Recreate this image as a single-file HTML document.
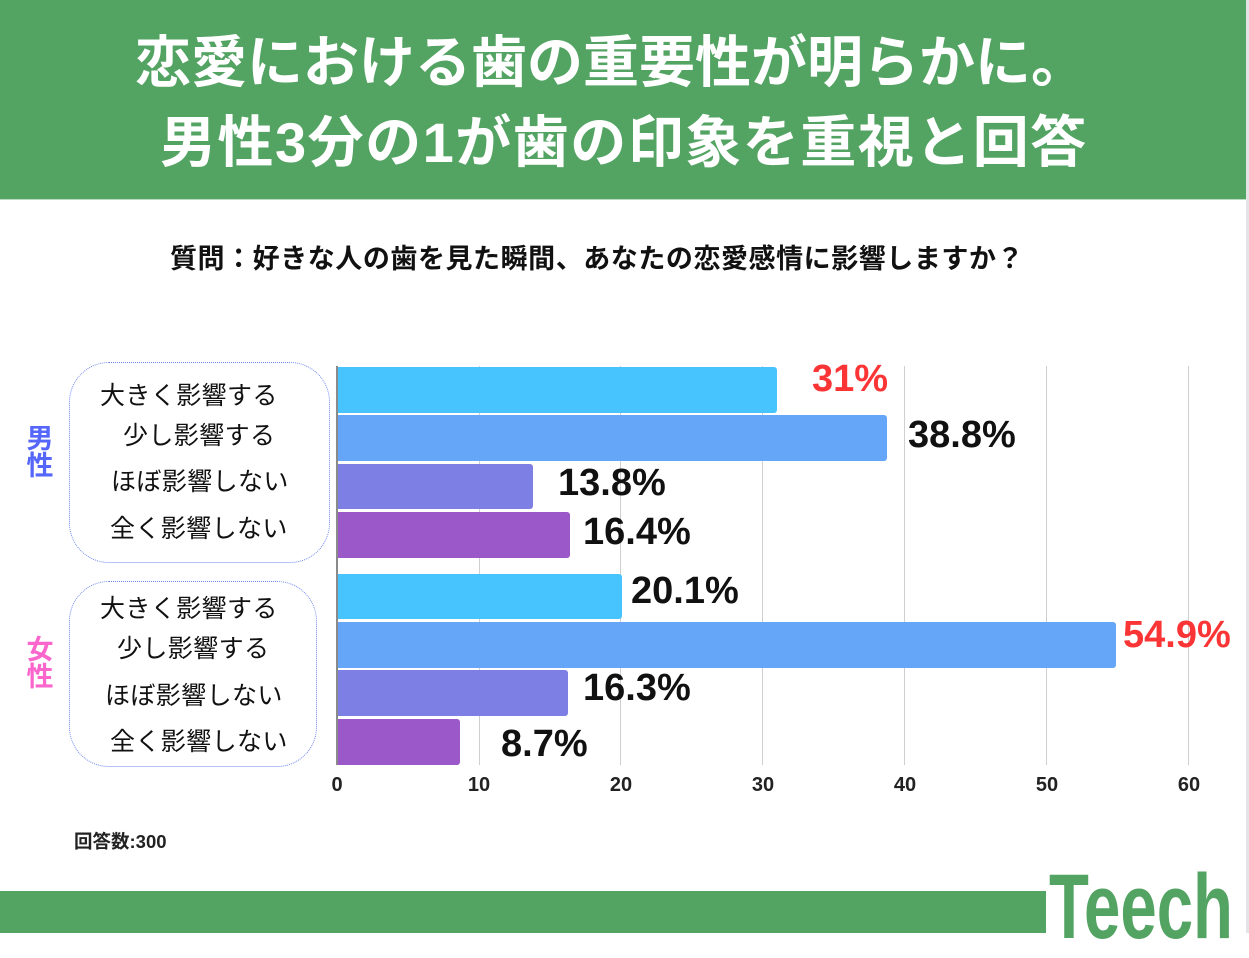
<!DOCTYPE html>
<html><head><meta charset="utf-8">
<style>
*{margin:0;padding:0;box-sizing:border-box}
body{width:1249px;height:933px;background:#fff;position:relative;overflow:hidden;font-family:"Liberation Sans","Noto Sans CJK JP",sans-serif;color:#111}
.a{position:absolute;white-space:nowrap;line-height:1}
.hdr{position:absolute;left:0;top:0;width:1249px;height:200px;background:#53a363;border-bottom:1px solid #b9dcc0}
.t{color:#fff;font-weight:bold;font-size:56px}
.sub{font-size:27px;font-weight:bold;letter-spacing:0.55px;color:#111}
.cat{font-size:25px;letter-spacing:0.4px;color:#111}
.val{font-size:38px;font-weight:bold;color:#111}
.red{color:#fb3535}
.tick{font-size:20px;font-weight:bold;color:#222;width:40px;text-align:center}
.bar{position:absolute;left:337px;height:45.5px;border-radius:0 3px 3px 0}
.c1{background:#47c3fd}.c2{background:#65a6f8}.c3{background:#7e7fe4}.c4{background:#9a58c9}
.grid{position:absolute;top:366px;width:1px;height:399px;background:#cfcfcf}
.box{position:absolute;border:1.2px dotted #7088ee;border-radius:40px}
.gl{font-size:27px;font-weight:bold;line-height:27px;width:30px;text-align:center}
</style></head><body>
<div class="hdr"></div>
<div class="a t" style="left:135px;top:35px">恋愛における歯の重要性が明らかに。</div>
<div class="a t" style="left:160px;top:115px;letter-spacing:1.5px">男性3分の1が歯の印象を重視と回答</div>
<div class="a sub" style="left:170px;top:246px">質問：好きな人の歯を見た瞬間、あなたの恋愛感情に影響しますか？</div>

<div class="box" style="left:69px;top:362px;width:261px;height:201px"></div>
<div class="box" style="left:69px;top:581px;width:248px;height:186px"></div>

<div class="a gl" style="left:25px;top:426px;color:#5566fb">男<br>性</div>
<div class="a gl" style="left:25px;top:637px;color:#fb66cc">女<br>性</div>

<div class="a cat" style="left:100px;top:383.5px">大きく影響する</div>
<div class="a cat" style="left:123px;top:423.5px">少し影響する</div>
<div class="a cat" style="left:111px;top:470px">ほぼ影響しない</div>
<div class="a cat" style="left:110px;top:517px">全く影響しない</div>
<div class="a cat" style="left:100px;top:597px">大きく影響する</div>
<div class="a cat" style="left:117px;top:637px">少し影響する</div>
<div class="a cat" style="left:105px;top:683.5px">ほぼ影響しない</div>
<div class="a cat" style="left:110px;top:730px">全く影響しない</div>

<div class="grid" style="left:479px"></div>
<div class="grid" style="left:620px"></div>
<div class="grid" style="left:762px"></div>
<div class="grid" style="left:904px"></div>
<div class="grid" style="left:1046px"></div>
<div class="grid" style="left:1188px"></div>

<div class="bar c1" style="top:367px;width:440px"></div>
<div class="bar c2" style="top:415px;width:550px"></div>
<div class="bar c3" style="top:463.5px;width:196px"></div>
<div class="bar c4" style="top:512px;width:232.5px"></div>
<div class="bar c1" style="top:573.5px;width:285px"></div>
<div class="bar c2" style="top:622px;width:779px"></div>
<div class="bar c3" style="top:670px;width:231px"></div>
<div class="bar c4" style="top:719px;width:123px"></div>

<div style="position:absolute;left:336px;top:366px;width:1.5px;height:399px;background:#8a8a8a"></div>

<div class="a val red" style="left:812px;top:359.5px">31%</div>
<div class="a val" style="left:908px;top:415.5px">38.8%</div>
<div class="a val" style="left:558px;top:463.5px">13.8%</div>
<div class="a val" style="left:583px;top:512.5px">16.4%</div>
<div class="a val" style="left:631px;top:571.5px">20.1%</div>
<div class="a val red" style="left:1123px;top:616px">54.9%</div>
<div class="a val" style="left:583px;top:668.5px">16.3%</div>
<div class="a val" style="left:501px;top:725px">8.7%</div>

<div class="a tick" style="left:317px;top:774.5px">0</div>
<div class="a tick" style="left:459px;top:774.5px">10</div>
<div class="a tick" style="left:601px;top:774.5px">20</div>
<div class="a tick" style="left:743px;top:774.5px">30</div>
<div class="a tick" style="left:885px;top:774.5px">40</div>
<div class="a tick" style="left:1027px;top:774.5px">50</div>
<div class="a tick" style="left:1169px;top:774.5px">60</div>

<div class="a" style="left:74px;top:833px;font-size:18.5px;font-weight:bold;color:#222">回答数:300</div>

<div style="position:absolute;left:0;top:891px;width:1046px;height:42px;background:#53a363"></div>
<div class="a" style="left:1049px;top:861px;font-size:92px;font-weight:bold;color:#53a363;transform:scaleX(0.71);transform-origin:0 0;letter-spacing:0px">Teech</div>

<div style="position:absolute;left:1246px;top:0;width:3px;height:933px;background:#e4e4e8"></div>
</body></html>
